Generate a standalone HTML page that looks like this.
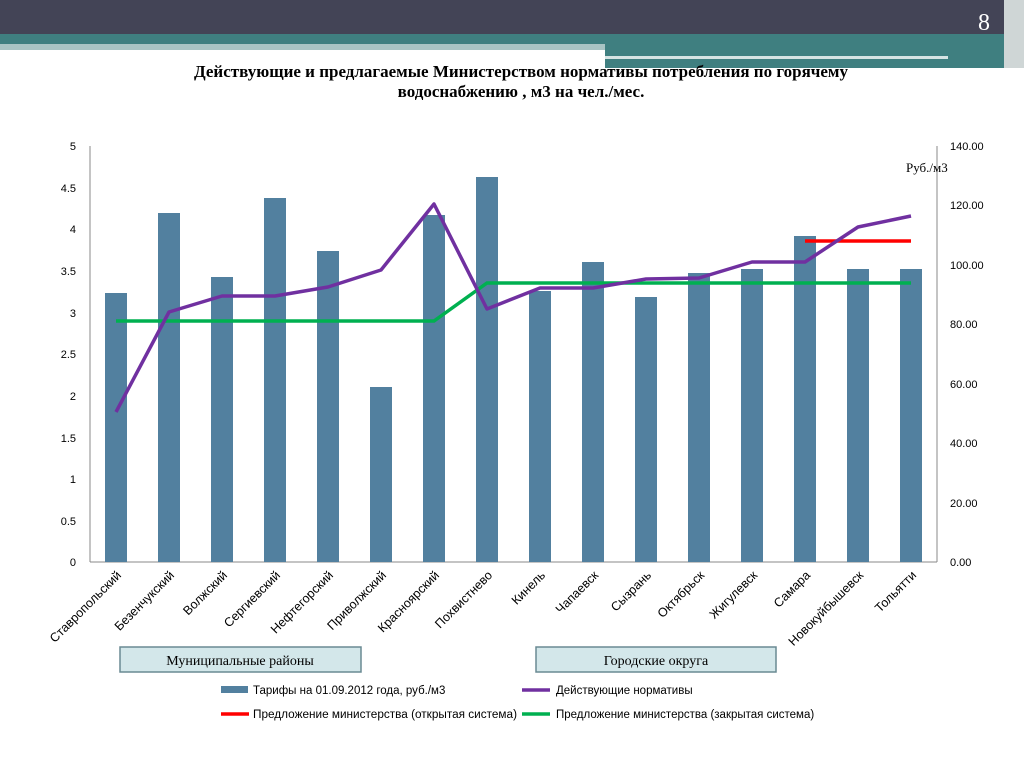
<!DOCTYPE html>
<html><head><meta charset="utf-8"><style>
html,body{margin:0;padding:0;width:1024px;height:768px;overflow:hidden;background:#fff;font-family:"Liberation Sans","DejaVu Sans",sans-serif}
</style></head><body>
<svg width="1024" height="768" viewBox="0 0 1024 768" xmlns="http://www.w3.org/2000/svg" font-family="Liberation Sans, DejaVu Sans, sans-serif">
<rect x="0" y="0" width="1024" height="34" fill="#434456"/>
<rect x="0" y="34" width="1024" height="10" fill="#3f7f80"/>
<rect x="0" y="44" width="605" height="6" fill="#a9c4c4"/>
<rect x="605" y="44" width="419" height="24" fill="#3f7f80"/>
<rect x="605" y="56" width="343" height="3" fill="#d6e3e3"/>
<rect x="1004" y="0" width="20" height="68" fill="#cfd6d6"/>
<text x="984" y="30" font-family="Liberation Serif, serif" font-size="24" fill="#fff" text-anchor="middle">8</text>
<text x="521" y="77" font-family="Liberation Serif, serif" font-size="17" font-weight="bold" text-anchor="middle">Действующие и предлагаемые Министерством нормативы потребления по  горячему</text>
<text x="521" y="97" font-family="Liberation Serif, serif" font-size="17" font-weight="bold" text-anchor="middle">водоснабжению , м3 на чел./мес.</text>
<g stroke="#888" stroke-width="1">
<line x1="90" y1="146" x2="90" y2="562"/><line x1="937" y1="146" x2="937" y2="562"/><line x1="90" y1="562" x2="937" y2="562"/>
</g>
<g font-size="11" fill="#000" text-anchor="end">
<text x="76" y="150">5</text><text x="76" y="192">4.5</text><text x="76" y="233">4</text><text x="76" y="275">3.5</text><text x="76" y="317">3</text><text x="76" y="358">2.5</text><text x="76" y="400">2</text><text x="76" y="442">1.5</text><text x="76" y="483">1</text><text x="76" y="525">0.5</text><text x="76" y="566">0</text>
</g>
<g font-size="11" fill="#000">
<text x="950" y="150">140.00</text><text x="950" y="209">120.00</text><text x="950" y="269">100.00</text><text x="950" y="328">80.00</text><text x="950" y="388">60.00</text><text x="950" y="447">40.00</text><text x="950" y="507">20.00</text><text x="950" y="566">0.00</text>
</g>
<text x="906" y="172" font-family="Liberation Serif, serif" font-size="13">Руб./м3</text>
<g fill="#52809f">
<rect x="105" y="293" width="22" height="269"/><rect x="158" y="213" width="22" height="349"/><rect x="211" y="277" width="22" height="285"/><rect x="264" y="198" width="22" height="364"/><rect x="317" y="251" width="22" height="311"/><rect x="370" y="387" width="22" height="175"/><rect x="423" y="215" width="22" height="347"/><rect x="476" y="177" width="22" height="385"/><rect x="529" y="291" width="22" height="271"/><rect x="582" y="262" width="22" height="300"/><rect x="635" y="297" width="22" height="265"/><rect x="688" y="273" width="22" height="289"/><rect x="741" y="269" width="22" height="293"/><rect x="794" y="236" width="22" height="326"/><rect x="847" y="269" width="22" height="293"/><rect x="900" y="269" width="22" height="293"/>
</g>
<polyline fill="none" stroke="#00b050" stroke-width="3.5" points="116,321 434,321 487,283 911,283"/>
<polyline fill="none" stroke="#ff0000" stroke-width="3.5" points="805,241 911,241"/>
<polyline fill="none" stroke="#7030a0" stroke-width="3.5" stroke-linejoin="round" points="116,412 169,312 222,296 275,296 328,287 381,270 434,204 487,309 540,288 593,288 646,279 699,278 752,262 805,262 858,227 911,216"/>
<g font-size="12.5" fill="#000" text-anchor="end">
<text transform="translate(122,576) rotate(-45)">Ставропольский</text>
<text transform="translate(175,576) rotate(-45)">Безенчукский</text>
<text transform="translate(228,576) rotate(-45)">Волжский</text>
<text transform="translate(281,576) rotate(-45)">Сергиевский</text>
<text transform="translate(334,576) rotate(-45)">Нефтегорский</text>
<text transform="translate(387,576) rotate(-45)">Приволжский</text>
<text transform="translate(440,576) rotate(-45)">Красноярский</text>
<text transform="translate(493,576) rotate(-45)">Похвистнево</text>
<text transform="translate(546,576) rotate(-45)">Кинель</text>
<text transform="translate(599,576) rotate(-45)">Чапаевск</text>
<text transform="translate(652,576) rotate(-45)">Сызрань</text>
<text transform="translate(705,576) rotate(-45)">Октябрьск</text>
<text transform="translate(758,576) rotate(-45)">Жигулевск</text>
<text transform="translate(811,576) rotate(-45)">Самара</text>
<text transform="translate(864,576) rotate(-45)">Новокуйбышевск</text>
<text transform="translate(917,576) rotate(-45)">Тольятти</text>
</g>
<rect x="120" y="647" width="241" height="25" fill="#d3e7ea" stroke="#6a8a93" stroke-width="1.5"/>
<text x="240" y="665" font-family="Liberation Serif, serif" font-size="14" text-anchor="middle">Муниципальные районы</text>
<rect x="536" y="647" width="240" height="25" fill="#d3e7ea" stroke="#6a8a93" stroke-width="1.5"/>
<text x="656" y="665" font-family="Liberation Serif, serif" font-size="14" text-anchor="middle">Городские округа</text>
<g font-size="11.5">
<rect x="221" y="686" width="27" height="7" fill="#52809f"/>
<text x="253" y="694">Тарифы на 01.09.2012 года, руб./м3</text>
<line x1="522" y1="690" x2="550" y2="690" stroke="#7030a0" stroke-width="3.5"/>
<text x="556" y="694">Действующие нормативы</text>
<line x1="221" y1="714" x2="249" y2="714" stroke="#ff0000" stroke-width="3.5"/>
<text x="253" y="718" textLength="264" lengthAdjust="spacingAndGlyphs">Предложение министерства (открытая система)</text>
<line x1="522" y1="714" x2="550" y2="714" stroke="#00b050" stroke-width="3.5"/>
<text x="556" y="718">Предложение министерства (закрытая система)</text>
</g>
</svg>
</body></html>
